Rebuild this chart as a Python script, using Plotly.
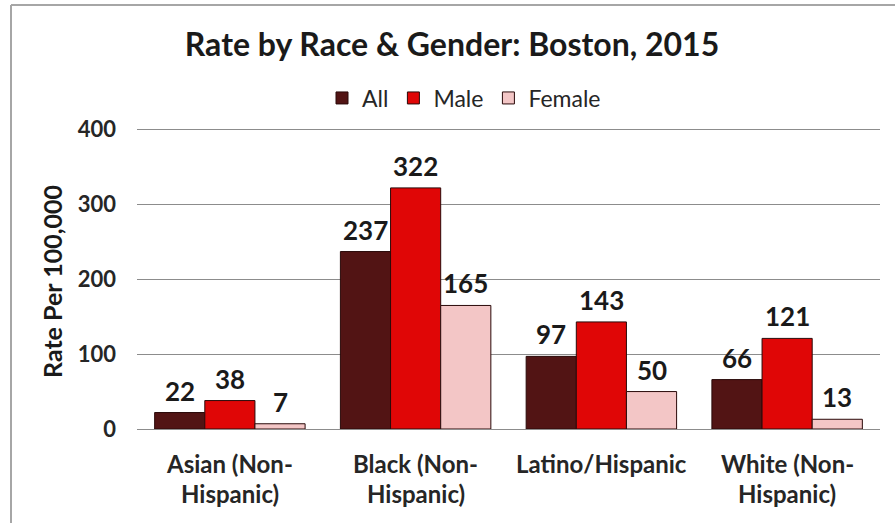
import plotly.graph_objects as go

categories = ["Asian (Non-\nHispanic)", "Black (Non-\nHispanic)", "Latino/Hispanic", "White (Non-\nHispanic)"]
series_names = ["All", "Male", "Female"]
all_vals = [22, 237, 97, 66]
male_vals = [38, 322, 143, 121]
female_vals = [7, 165, 50, 13]
y_ticks = [0, 100, 200, 300, 400]

W, H = 895, 523
L, R, T, B = 137, 15, 128, 94
pw, ph = W - L - R, H - T - B

FONT = "Lato"
colors = ["#521414", "#e00606", "#f3c6c6"]
series = [all_vals, male_vals, female_vals]
bargap = 0.19
bw = (1 - bargap) / 3

fig = go.Figure()
xidx = list(range(len(categories)))
for name, vals, col in zip(series_names, series, colors):
    fig.add_trace(go.Bar(
        x=xidx, y=vals, name=name,
        marker=dict(color=col, line=dict(color="#2a0a0a", width=1)),
    ))

annotations = []
# data labels
for k, vals in enumerate(series):
    off = (k - 1) * bw
    for i, v in enumerate(vals):
        annotations.append(dict(
            x=i + off, y=v, xref="x", yref="y", text=f"<b>{v}</b>",
            showarrow=False, yanchor="bottom", yshift=4,
            font=dict(family=FONT, size=26, color="#1a1a1a")))
# category labels (two lines)
for i, c in enumerate(categories):
    lines = c.split("\n")
    for j, ln in enumerate(lines):
        annotations.append(dict(
            x=i, y=0, xref="x", yref="y", text=f"<b>{ln}</b>",
            showarrow=False, yanchor="middle", yshift=-(34 + 30 * j),
            font=dict(family=FONT, size=24, color="#262626")))
# y-axis title
annotations.append(dict(
    x=(52 - L) / pw, y=(429 - 282) / ph, xref="paper", yref="paper",
    text="<b>Rate Per 100,000</b>", textangle=-90, showarrow=False,
    xanchor="center", yanchor="middle",
    font=dict(family=FONT, size=25, color="#1a1a1a")))

# outer border (left + top)
bx0 = (11 - L) / pw
bxr = (W - L) / pw
by_top = 1 + (T - 5) / ph
by_bot = -(B) / ph
shapes = [
    dict(type="line", xref="paper", yref="paper", x0=bx0, x1=bxr, y0=by_top, y1=by_top,
         line=dict(color="#a6a6a6", width=2)),
    dict(type="line", xref="paper", yref="paper", x0=bx0, x1=bx0, y0=by_top, y1=by_bot,
         line=dict(color="#a6a6a6", width=2)),
]

fig.update_layout(
    width=W, height=H,
    margin=dict(l=L, r=R, t=T, b=B, autoexpand=False),
    paper_bgcolor="white", plot_bgcolor="white",
    barmode="group", bargap=bargap, bargroupgap=0,
    title=dict(text="<b>Rate by Race & Gender: Boston, 2015</b>",
               x=452 / W, xref="container", xanchor="center",
               y=1 - 45 / H, yref="container", yanchor="middle",
               font=dict(family=FONT, size=32, color="#1a1a1a")),
    legend=dict(orientation="h", x=(464 - L) / pw, xanchor="center",
                y=1 + (T - 98) / ph, yanchor="middle",
                font=dict(family=FONT, size=23, color="#262626"),
                tracegroupgap=0, bgcolor="rgba(0,0,0,0)"),
    xaxis=dict(range=[-0.5, len(categories) - 0.5], showticklabels=False,
               showgrid=False, zeroline=False, showline=False, ticks=""),
    yaxis=dict(range=[0, 402], tickvals=y_ticks, ticktext=[f"<b>{t}</b>" for t in y_ticks],
               showgrid=True, gridcolor="#8c8c8c", gridwidth=1,
               zeroline=True, zerolinecolor="#8c8c8c", zerolinewidth=1,
               ticks="", ticklabelstandoff=20,
               tickfont=dict(family=FONT, size=22, color="#262626")),
    annotations=annotations, shapes=shapes,
    showlegend=True,
)

fig.write_html("out.html", config={"displayModeBar": False},
               post_script="document.body.style.margin='0px';document.body.style.overflow='hidden';")
